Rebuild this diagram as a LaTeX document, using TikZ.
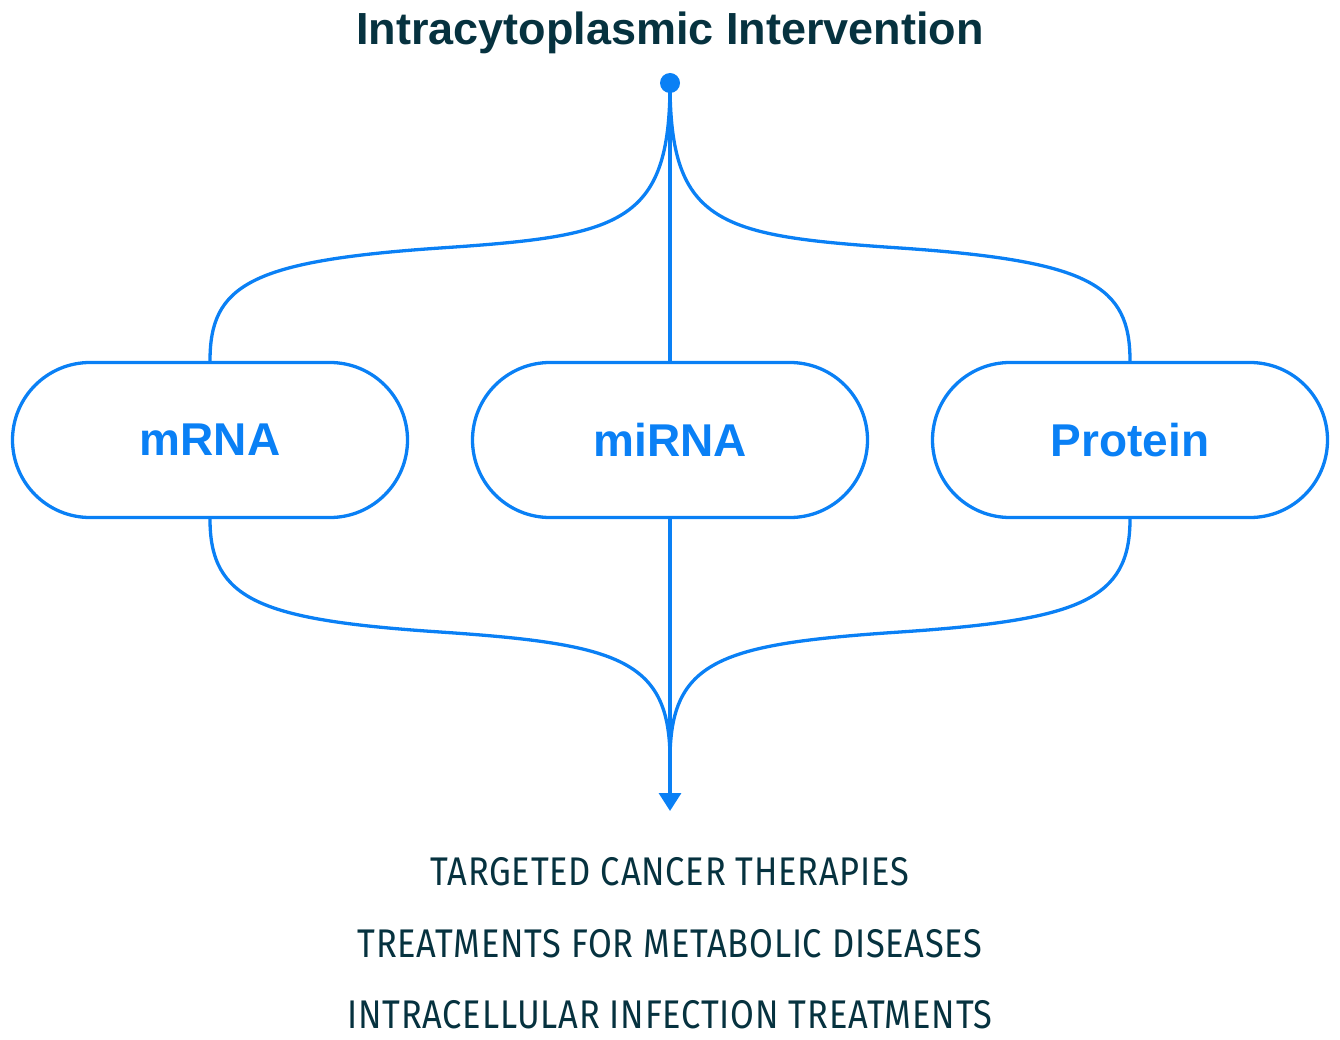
\documentclass[tikz,border=0pt]{standalone}
\usepackage{fontspec}
\usetikzlibrary{arrows.meta,shapes.misc}
\setmainfont{Liberation Sans}
\newfontfamily\titlefont{Liberation Sans}
\newfontfamily\condfont{Fira Sans}[FakeStretch=0.86,LetterSpace=2]
\definecolor{accent}{HTML}{0A80F5}
\definecolor{ink}{HTML}{06323F}
\tikzset{
  link/.style={draw=accent,line width=3.3pt},
  pill/.style={rounded rectangle,draw=accent,line width=3.3pt,minimum width=395pt,minimum height=155pt,inner sep=0pt,font=\fontsize{46}{50}\selectfont\bfseries,text=accent},
  outcome/.style={font=\condfont\fontsize{40}{44}\selectfont,text=ink,anchor=base},
}
\begin{document}
\begin{tikzpicture}[x=1pt,y=-1pt]
\useasboundingbox (0,0) rectangle (1340,1040);
\node[font=\titlefont\fontsize{45}{48}\selectfont\bfseries,text=ink,anchor=base] (title) at (670,45) {Intracytoplasmic Intervention};
\node[circle,fill=accent,minimum size=20pt,inner sep=0pt] (dot) at (670,83) {};
\node[pill] (m) at (210,440) {mRNA};
\node[pill] (mi) at (670,440) {miRNA};
\node[pill] (p) at (1130,440) {Protein};
\coordinate (merge) at (670,760);
\coordinate (tip) at (670,811);
\draw[link] (dot.center) -- (mi.north);
\draw[link] (dot.center) .. controls (670,225) and (620,236) .. (440,248) .. controls (250,261) and (210,285) .. (m.north);
\draw[link] (dot.center) .. controls (670,225) and (720,236) .. (900,248) .. controls (1090,261) and (1130,285) .. (p.north);
\draw[link] (m.south) .. controls (210,600) and (260,620) .. (440,632) .. controls (620,644) and (670,660) .. (merge);
\draw[link] (p.south) .. controls (1130,600) and (1080,620) .. (900,632) .. controls (720,644) and (670,660) .. (merge);
\draw[link,-{Triangle[width=22pt,length=18pt]}] (mi.south) -- (tip);
\node[outcome] (o1) at (670,885) {TARGETED CANCER THERAPIES};
\node[outcome] (o2) at (670,957) {TREATMENTS FOR METABOLIC DISEASES};
\node[outcome] (o3) at (670,1028) {INTRACELLULAR INFECTION TREATMENTS};
\end{tikzpicture}
\end{document}
